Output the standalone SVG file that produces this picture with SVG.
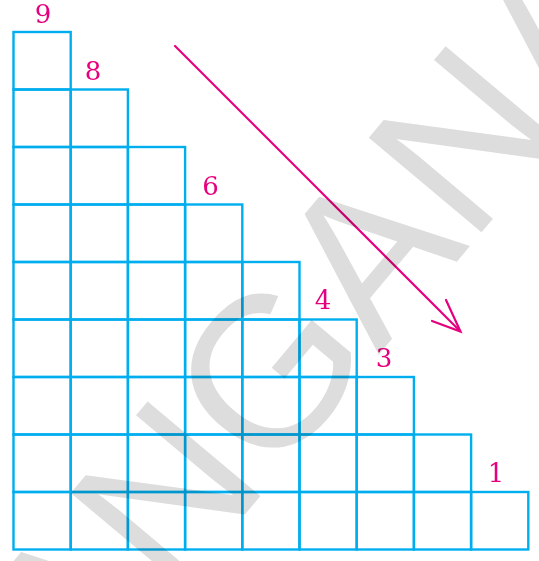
<svg xmlns="http://www.w3.org/2000/svg" width="539" height="561" viewBox="0 0 539 561">
<style>
.c{fill:none;stroke:#00aeef;stroke-width:2.4}
.n{font-family:"DejaVu Serif","Liberation Serif",serif;font-size:26px;fill:#e6007e;text-anchor:middle}
.wm{font-family:"Liberation Sans",Arial,sans-serif;font-size:214px;fill:#dddddd;mix-blend-mode:multiply}
</style>
<rect width="539" height="561" fill="#fff"/>
<g id="grid">
<g id="row1"><rect class="c" x="13.5" y="32" width="57.2" height="57.5"/></g>
<g id="row2"><rect class="c" x="13.5" y="89.5" width="57.2" height="57.5"/><rect class="c" x="70.7" y="89.5" width="57.2" height="57.5"/></g>
<g id="row3"><rect class="c" x="13.5" y="147" width="57.2" height="57.5"/><rect class="c" x="70.7" y="147" width="57.2" height="57.5"/><rect class="c" x="127.9" y="147" width="57.2" height="57.5"/></g>
<g id="row4"><rect class="c" x="13.5" y="204.5" width="57.2" height="57.5"/><rect class="c" x="70.7" y="204.5" width="57.2" height="57.5"/><rect class="c" x="127.9" y="204.5" width="57.2" height="57.5"/><rect class="c" x="185.1" y="204.5" width="57.2" height="57.5"/></g>
<g id="row5"><rect class="c" x="13.5" y="262" width="57.2" height="57.5"/><rect class="c" x="70.7" y="262" width="57.2" height="57.5"/><rect class="c" x="127.9" y="262" width="57.2" height="57.5"/><rect class="c" x="185.1" y="262" width="57.2" height="57.5"/><rect class="c" x="242.3" y="262" width="57.2" height="57.5"/></g>
<g id="row6"><rect class="c" x="13.5" y="319.5" width="57.2" height="57.5"/><rect class="c" x="70.7" y="319.5" width="57.2" height="57.5"/><rect class="c" x="127.9" y="319.5" width="57.2" height="57.5"/><rect class="c" x="185.1" y="319.5" width="57.2" height="57.5"/><rect class="c" x="242.3" y="319.5" width="57.2" height="57.5"/><rect class="c" x="299.5" y="319.5" width="57.2" height="57.5"/></g>
<g id="row7"><rect class="c" x="13.5" y="377" width="57.2" height="57.5"/><rect class="c" x="70.7" y="377" width="57.2" height="57.5"/><rect class="c" x="127.9" y="377" width="57.2" height="57.5"/><rect class="c" x="185.1" y="377" width="57.2" height="57.5"/><rect class="c" x="242.3" y="377" width="57.2" height="57.5"/><rect class="c" x="299.5" y="377" width="57.2" height="57.5"/><rect class="c" x="356.7" y="377" width="57.2" height="57.5"/></g>
<g id="row8"><rect class="c" x="13.5" y="434.5" width="57.2" height="57.5"/><rect class="c" x="70.7" y="434.5" width="57.2" height="57.5"/><rect class="c" x="127.9" y="434.5" width="57.2" height="57.5"/><rect class="c" x="185.1" y="434.5" width="57.2" height="57.5"/><rect class="c" x="242.3" y="434.5" width="57.2" height="57.5"/><rect class="c" x="299.5" y="434.5" width="57.2" height="57.5"/><rect class="c" x="356.7" y="434.5" width="57.2" height="57.5"/><rect class="c" x="413.9" y="434.5" width="57.2" height="57.5"/></g>
<g id="row9"><rect class="c" x="13.5" y="492" width="57.2" height="57.5"/><rect class="c" x="70.7" y="492" width="57.2" height="57.5"/><rect class="c" x="127.9" y="492" width="57.2" height="57.5"/><rect class="c" x="185.1" y="492" width="57.2" height="57.5"/><rect class="c" x="242.3" y="492" width="57.2" height="57.5"/><rect class="c" x="299.5" y="492" width="57.2" height="57.5"/><rect class="c" x="356.7" y="492" width="57.2" height="57.5"/><rect class="c" x="413.9" y="492" width="57.2" height="57.5"/><rect class="c" x="471.1" y="492" width="57.2" height="57.5"/></g>
</g>
<g id="labels">
<text class="n" x="43" y="23">9</text>
<text class="n" x="93" y="80">8</text>
<text class="n" x="210.5" y="195">6</text>
<text class="n" x="323" y="309">4</text>
<text class="n" x="384" y="367">3</text>
<text class="n" x="496" y="482">1</text>
</g>
<g id="connectors" fill="none" stroke="#e6007e" stroke-width="2.2" stroke-linecap="round">
<line x1="175" y1="46" x2="460" y2="331"/>
<polyline points="432,321 460.5,331.5 446,300"/>
</g>
<text class="wm" transform="translate(470,246) rotate(-50)" x="-606" y="0">ANGANA</text>
</svg>
